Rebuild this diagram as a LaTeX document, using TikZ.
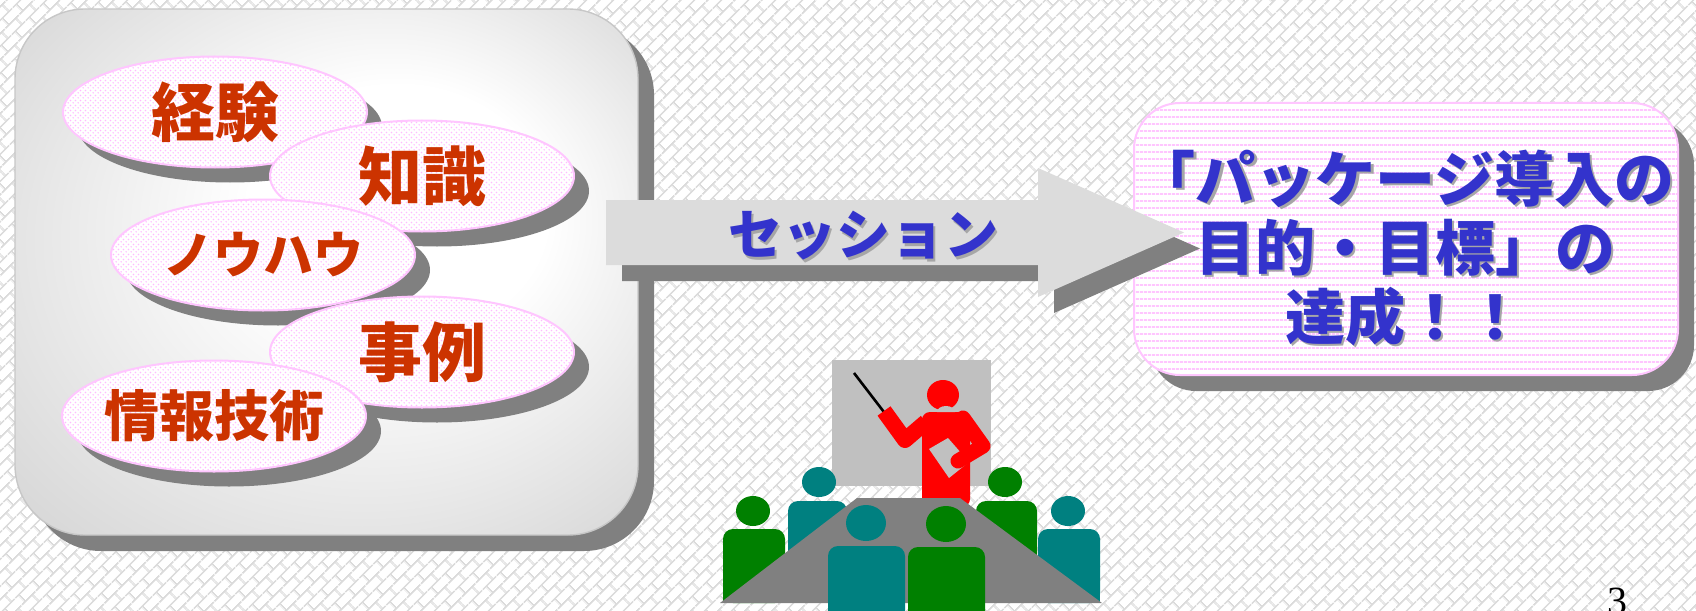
\documentclass[tikz,border=0pt]{standalone}
\usepackage{fontspec}
\setmainfont{Liberation Serif}
\newfontfamily\jpfont{Noto Sans CJK JP}
\usetikzlibrary{patterns.meta,shapes.geometric}

\definecolor{wordred}{HTML}{CC3300}
\definecolor{wordblue}{HTML}{3333CC}
\definecolor{shadowgray}{HTML}{808080}
\definecolor{lilac}{HTML}{FFC6FF}
\definecolor{pinkdot}{HTML}{FFBBFF}
\definecolor{arrowgray}{HTML}{DCDCDC}
\definecolor{screengray}{HTML}{C0C0C0}
\definecolor{figred}{HTML}{FF0000}
\definecolor{figgreen}{HTML}{008000}
\definecolor{figteal}{HTML}{008080}
\definecolor{tablegray}{HTML}{808080}

% diagonal brick wall for the page background
\tikzdeclarepattern{
  name=brickwall, type=uncolored,
  bounding box={(0pt,0pt) and (10pt,10pt)},
  tile size={(10pt,10pt)},
  tile transformation={rotate=45},
  code={
    \draw[line width=0.9pt] (0pt,2.5pt) -- (10pt,2.5pt) (0pt,7.5pt) -- (10pt,7.5pt);
    \draw[line width=0.9pt] (2.5pt,2.5pt) -- (2.5pt,7.5pt)
      (7.5pt,7.5pt) -- (7.5pt,10pt) (7.5pt,0pt) -- (7.5pt,2.5pt);
  }
}
% fine dots inside the bubbles
\tikzdeclarepattern{
  name=pinkdots, type=uncolored,
  bounding box={(0pt,0pt) and (2.4pt,2.4pt)},
  tile size={(2.4pt,2.4pt)},
  code={\fill (0.6pt,0.6pt) circle (0.42pt); \fill (1.8pt,1.8pt) circle (0.42pt);}
}
% horizontal pin stripes for the goal panel
\tikzdeclarepattern{
  name=pinkstripes, type=uncolored,
  bounding box={(0pt,0pt) and (2pt,3.5pt)},
  tile size={(2pt,3.5pt)},
  code={\fill (0pt,1.2pt) rectangle (2pt,2.2pt);}
}

\pgfdeclareradialshading{panelglow}{\pgfpoint{8bp}{8bp}}{color(0bp)=(white); color(12bp)=(white); color(42bp)=(black!20)}

\begin{document}
\begin{tikzpicture}[x=0.5pt, y=-0.5pt,
  bubble/.style={ellipse, inner sep=0pt, minimum width=152pt, minimum height=55.5pt,
    draw=lilac, line width=1pt, preaction={fill=white},
    pattern=pinkdots, pattern color=pinkdot,
    text=wordred, font=\jpfont\bfseries},
  bubbleshadow/.style={fill=shadowgray},
  goalfont/.style={font=\jpfont\bfseries\fontsize{30}{34.5}\selectfont},
  bluetext/.style={text=wordblue, inner sep=0pt},
  bluetextshadow/.style={text=black!35, inner sep=0pt},
  personbody/.style={rounded corners=5pt}
]
\useasboundingbox (0,0) rectangle (1696,610);

% background
\fill[white] (0,0) rectangle (1696,610);
\fill[pattern=brickwall, pattern color=black!14] (0,0) rectangle (1696,610);

% left panel
\fill[shadowgray, rounded corners=35pt] (31,25) rectangle (654,551);
\shade[shading=panelglow, rounded corners=35pt] (15,9) rectangle (638,535);
\draw[black!22, line width=0.7pt, rounded corners=35pt] (15,9) rectangle (638,535);

% bubbles
\fill[bubbleshadow] (230,127) ellipse [x radius=76pt, y radius=27.75pt];
\node[bubble] (keiken) at (215,112) {\fontsize{32}{32}\selectfont\makebox[0pt]{経験}};
\fill[bubbleshadow] (437,191) ellipse [x radius=76pt, y radius=27.75pt];
\node[bubble] (chishiki) at (422,176) {\fontsize{32}{32}\selectfont\makebox[0pt]{知識}};
\fill[bubbleshadow] (278,270) ellipse [x radius=76pt, y radius=27.75pt];
\node[bubble] (nouhau) at (263,255) {\fontsize{25}{25}\selectfont\makebox[0pt]{ノウハウ}};
\fill[bubbleshadow] (437,367) ellipse [x radius=76pt, y radius=27.75pt];
\node[bubble] (jirei) at (422,352) {\fontsize{32}{32}\selectfont\makebox[0pt]{事例}};
\fill[bubbleshadow] (229,431) ellipse [x radius=76pt, y radius=27.75pt];
\node[bubble] (joho) at (214,416) {\fontsize{27.5}{27.5}\selectfont\makebox[0pt]{情報技術}};

% goal panel
\fill[shadowgray, rounded corners=23pt] (1150,119) rectangle (1694,391);
\fill[white, rounded corners=23pt] (1134,103) rectangle (1678,375);
\fill[pattern=pinkstripes, pattern color=lilac, rounded corners=23pt] (1134,103) rectangle (1678,375);
\draw[lilac, line width=1pt, rounded corners=23pt] (1134,103) rectangle (1678,375);
\node[bluetextshadow, goalfont, align=center] (goalshadow) at (1407.5,250.5)
  {「パッケージ導入の\\目的・目標」の\\達成！！};
\node[bluetext, goalfont, align=center] (goal) at (1405,248)
  {「パッケージ導入の\\目的・目標」の\\達成！！};

% session arrow
\fill[shadowgray] (622,216) -- (1054,216) -- (1054,184) -- (1200,248.5) -- (1054,313) -- (1054,281) -- (622,281) -- cycle;
\fill[arrowgray] (606,200) -- (1038,200) -- (1038,168) -- (1184,232.5) -- (1038,297) -- (1038,265) -- (606,265) -- cycle;
\node[bluetextshadow, font=\jpfont\bfseries\fontsize{27}{27}\selectfont] (sessionshadow) at (865.5,238.5) {セッション};
\node[bluetext, font=\jpfont\bfseries\fontsize{27}{27}\selectfont] (session) at (863,236) {セッション};

% presentation screen and pointer
\fill[screengray] (832,360) rectangle (991,486);
\draw[black, line width=1.3pt] (854,373) -- (887,416);

% presenter
\fill[figred] (943,395) ellipse [x radius=8pt, y radius=7.5pt];
\fill[figred, rounded corners=4pt] (922,412) rectangle (970,507);
\fill[screengray] (937,412) arc [start angle=180, end angle=360, x radius=4.5pt, y radius=-3pt] -- cycle;
\draw[figred, line width=8pt, line join=round] (884,411) -- (905,440) -- (926,422);
\fill[screengray] (929,449) -- (948,438) -- (969,462) -- (949,478) -- cycle;
\draw[figred, line width=7.5pt, line join=round, line cap=round] (963,418) -- (983,446) -- (958,461);

% audience behind the table
\fill[figgreen] (753,511) ellipse [x radius=8.5pt, y radius=7.5pt];
\fill[figgreen, personbody] (723,529) rectangle (785,603);
\fill[figgreen] (723,560) rectangle (785,603);
\fill[figteal] (819,482) ellipse [x radius=8.5pt, y radius=7.5pt];
\fill[figteal, personbody] (788,501) rectangle (847,570);
\fill[figgreen] (1005,482) ellipse [x radius=8.5pt, y radius=7.5pt];
\fill[figgreen, personbody] (976,501) rectangle (1037,570);
\fill[figteal] (1068,511) ellipse [x radius=8.5pt, y radius=7.5pt];
\fill[figteal, personbody] (1038,529) rectangle (1100,603);
\fill[figteal] (1038,560) rectangle (1100,603);

% table
\fill[tablegray] (857,498) -- (960,498) -- (1102,603) -- (720,603) -- cycle;

% audience in front of the table
\fill[figteal] (866,523) ellipse [x radius=10pt, y radius=9pt];
\fill[figteal, personbody] (828,546) rectangle (905,625);
\fill[figgreen] (946,524) ellipse [x radius=10pt, y radius=9pt];
\fill[figgreen, personbody] (908,547) rectangle (985,625);

% page number
\node[anchor=base, inner sep=0pt, font=\fontsize{20}{20}\selectfont] (pagenum) at (1617,614) {3};
\end{tikzpicture}
\end{document}
